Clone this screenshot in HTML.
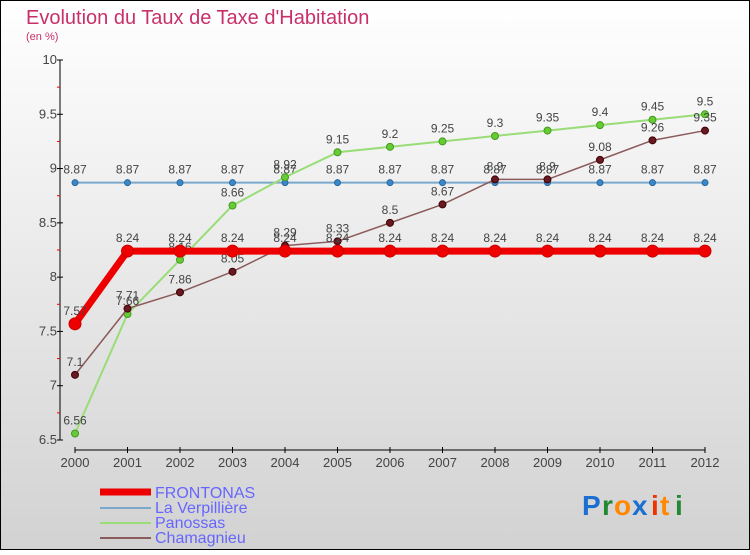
<!DOCTYPE html>
<html><head><meta charset="utf-8"><style>
body{margin:0;}
svg text{font-family:"Liberation Sans",sans-serif;}
</style></head><body>
<svg width="750" height="550" viewBox="0 0 750 550" xmlns="http://www.w3.org/2000/svg">
<defs><linearGradient id="bg" x1="0" y1="0" x2="0" y2="1"><stop offset="0" stop-color="#ffffff"/><stop offset="1" stop-color="#d2d2d2"/></linearGradient></defs>
<rect x="0.5" y="0.5" width="749" height="549" fill="url(#bg)" stroke="#000"/>
<text x="26" y="24" font-size="20" fill="#c8306a">Evolution du Taux de Taxe d'Habitation</text>
<text x="26" y="40" font-size="11" fill="#c8306a">(en %)</text>
<g id="axes"></g>
<g id="series"></g>
<g id="legend">
<line x1="100" y1="492" x2="151" y2="492" stroke="#ee0000" stroke-width="7"/>
<text x="155" y="498" font-size="16" fill="#6666ff">FRONTONAS</text>
<line x1="100" y1="508" x2="151" y2="508" stroke="#7aa8cc" stroke-width="2"/>
<text x="155" y="513" font-size="16" fill="#6666ff">La Verpillière</text>
<line x1="100" y1="523" x2="151" y2="523" stroke="#99dd77" stroke-width="2"/>
<text x="155" y="528" font-size="16" fill="#6666ff">Panossas</text>
<line x1="100" y1="538" x2="151" y2="538" stroke="#8b5a5a" stroke-width="2"/>
<text x="155" y="543" font-size="16" fill="#6666ff">Chamagnieu</text>
</g>
<g font-size="28" font-weight="bold">
<text x="582" y="515" fill="#1a6fd0">P</text><text x="602" y="515" fill="#228833">r</text><text x="614" y="515" fill="#ff8800">o</text><text x="632" y="515" fill="#1a6fd0">x</text><text x="651" y="515" fill="#ee3300">i</text><text x="660" y="515" fill="#ff8800">t</text><text x="675" y="515" fill="#228833">i</text>
</g>
</svg>
<script>
const years=[2000,2001,2002,2003,2004,2005,2006,2007,2008,2009,2010,2011,2012];
const frontonas=[7.57,8.24,8.24,8.24,8.24,8.24,8.24,8.24,8.24,8.24,8.24,8.24,8.24];
const verpilliere=[8.87,8.87,8.87,8.87,8.87,8.87,8.87,8.87,8.87,8.87,8.87,8.87,8.87];
const panossas=[6.56,7.66,8.16,8.66,8.92,9.15,9.2,9.25,9.3,9.35,9.4,9.45,9.5];
const chamagnieu=[7.1,7.71,7.86,8.05,8.29,8.33,8.5,8.67,8.9,8.9,9.08,9.26,9.35];
const yTicks=[6.5,7,7.5,8,8.5,9,9.5,10];
const NS="http://www.w3.org/2000/svg";
function x(i){return 75+i*52.5;}
function y(v){return 440-(v-6.5)*380/3.5;}
function mk(tag,attrs,parent){const e=document.createElementNS(NS,tag);for(const k in attrs)e.setAttribute(k,attrs[k]);parent.appendChild(e);return e;}
const ax=document.getElementById('axes');
let l=mk('line',{x1:60,y1:y(10),x2:60,y2:y(6.5),stroke:'#000'},ax);


l=mk('line',{x1:x(0),y1:450,x2:x(12),y2:450,stroke:'#000'},ax);


yTicks.forEach((t,i)=>{
 mk('line',{x1:57,y1:y(t),x2:63,y2:y(t),stroke:'#000'},ax);
 const tx=mk('text',{x:57,y:y(t)+4,'font-size':13,fill:'#444','text-anchor':'end'},ax);
 tx.textContent=String(t);
 
 
 if(i<yTicks.length-1)mk('line',{x1:57,y1:y(t+0.25),x2:60,y2:y(t+0.25),stroke:'#e00'},ax);
});
years.forEach((yr,i)=>{
 mk('line',{x1:x(i),y1:447,x2:x(i),y2:453,stroke:'#000'},ax);
 const tx=mk('text',{x:x(i),y:467,'font-size':13,fill:'#444','text-anchor':'middle'},ax);
 tx.textContent=String(yr);
 
 
});
const sg=document.getElementById('series');
function series(data,name,color,lw,r,dot,dotStroke){
 const g=mk('g',{},sg);
 
 
 const p=mk('polyline',{points:data.map((v,i)=>x(i)+','+y(v)).join(' '),fill:'none',stroke:color,'stroke-width':lw,'stroke-linejoin':'round'},g);
 
 
 data.forEach((v,i)=>{
  const c=mk('circle',{cx:x(i),cy:y(v),r:r,fill:dot,stroke:dotStroke,'stroke-width':1},g);
  
  
  const t=mk('text',{x:x(i),y:y(v)-9,'font-size':12,fill:'#444','text-anchor':'middle'},g);
  t.textContent=String(v);
  
  
 });
}
series(verpilliere,'la-verpilliere','#7aa8cc',2,3,'#3a88cc','#2a6699');
series(panossas,'panossas','#99dd77',2,3.5,'#66cc33','#449922');
series(chamagnieu,'chamagnieu','#8b5a5a',1.5,3.5,'#661a22','#440000');
series(frontonas,'frontonas','#ee0000',7,6,'#ee0000','#cc0000');
</script>
</body></html>
